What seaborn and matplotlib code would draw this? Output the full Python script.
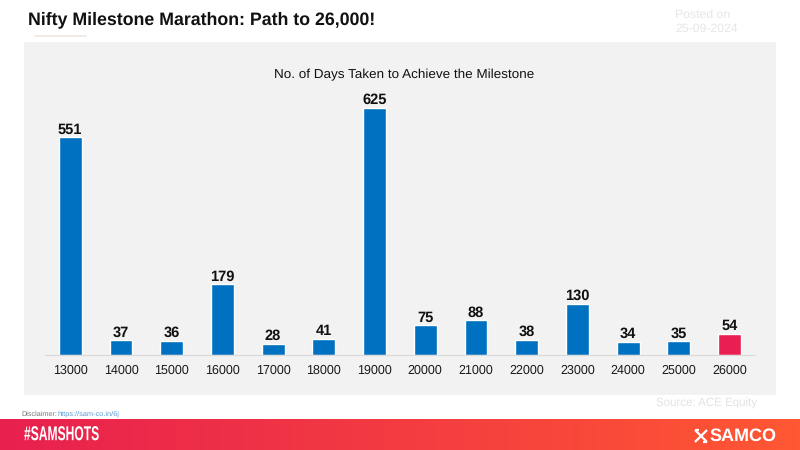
import numpy as np
import pandas as pd
import seaborn as sns
import matplotlib.pyplot as plt
from matplotlib.patches import Rectangle
from matplotlib.patheffects import AbstractPathEffect
from matplotlib.transforms import Affine2D
from matplotlib.colors import LinearSegmentedColormap

# data
milestones = ['13000', '14000', '15000', '16000', '17000', '18000', '19000',
              '20000', '21000', '22000', '23000', '24000', '25000', '26000']
days = [551, 37, 36, 179, 28, 41, 625, 75, 88, 38, 130, 34, 35, 54]
bar_colors = ['#0070c0'] * 13 + ['#e91e52']

df = pd.DataFrame({'milestone': milestones, 'days': days})

sns.set_theme(style='white')
plt.rcParams['font.family'] = ['Liberation Sans', 'DejaVu Sans']
plt.rcParams['text.hinting'] = 'no_hinting'
plt.rcParams['text.hinting_factor'] = 8

W, H = 800, 450
fig = plt.figure(figsize=(8, 4.5), dpi=100, facecolor='white')


def px(x, y):
    # pixel position from top left -> figure fraction
    return x / W, 1 - y / H


class Squeeze(AbstractPathEffect):
    # no condensed font installed, so squeeze the glyphs sideways
    def __init__(self, x0, factor):
        super().__init__()
        self.x0, self.factor = x0, factor

    def draw_path(self, renderer, gc, tpath, affine, rgbFace=None):
        squeeze = Affine2D().translate(-self.x0, 0).scale(self.factor, 1).translate(self.x0, 0)
        renderer.draw_path(gc, tpath, affine + squeeze, rgbFace)


# grey panel
fig.add_artist(Rectangle(px(24, 395), 752 / W, 353 / H, transform=fig.transFigure,
                         facecolor='#f2f2f2', edgecolor='none', zorder=0))

# chart
ax = fig.add_axes([44.9 / W, 1 - 355 / H, 710 / W, 277 / H])
ax.patch.set_alpha(0)
sns.barplot(data=df, x='milestone', y='days', hue='milestone', palette=bar_colors,
            legend=False, width=0.45, saturation=1, ax=ax)
ax.set_xlim(-0.5, 13.5)
ax.set_ylim(0, 701)
ax.set_xlabel('')
ax.set_ylabel('')
ax.set_yticks([])
ax.tick_params(axis='x', length=0, labelsize=9, pad=7, labelcolor='#1a1a1a')
for s in ['top', 'left', 'right']:
    ax.spines[s].set_visible(False)
ax.spines['bottom'].set_color('#d9d9d9')
ax.spines['bottom'].set_linewidth(0.8)
for c in ax.containers:
    ax.bar_label(c, fontsize=10.5, fontweight='bold', color='#111111', padding=0.5)

# texts
fig.text(*px(28, 20), 'Nifty Milestone Marathon: Path to 26,000!', fontsize=12.8,
         fontweight='bold', color='#111111', va='center')
fig.add_artist(plt.Line2D([35 / W, 86 / W], [1 - 35.5 / H] * 2, color='#eee8e0', lw=1.2))
fig.text(*px(404.5, 74.5), 'No. of Days Taken to Achieve the Milestone', fontsize=9.7,
         color='#111111', ha='center', va='center')
fig.text(*px(675, 15), 'Posted on', fontsize=8.8, color='#e6e6e6', va='center')
fig.text(*px(675, 29), '25-09-2024', fontsize=8.8, color='#e6e6e6', va='center')
fig.text(*px(656, 403), 'Source: ACE Equity', fontsize=8.3, color='#e3e3e3', va='center')
fig.text(*px(21, 414), 'Disclaimer:', fontsize=5.2, color='#777777', va='center')
fig.text(*px(57.5, 414), 'https://sam-co.in/6j', fontsize=5.3, color='#5b9bd5', va='center')

# footer banner
banner = fig.add_axes([0, 0, 1, 31 / H])
cmap = LinearSegmentedColormap.from_list('banner', ['#e8204f', '#ff5733'])
banner.imshow(np.linspace(0, 1, 256)[None, :], aspect='auto', cmap=cmap, extent=(0, W, 31, 0))
banner.axis('off')
tag = fig.text(*px(24, 435), '#SAMSHOTS', fontsize=14.5, fontweight='bold', color='white',
               va='center')
tag.set_path_effects([Squeeze(24, 0.6)])
fig.text(*px(709, 436), 'SAMCO', fontsize=13, fontweight='bold', color='white', va='center')

# logo mark
for xs, ys in [([695, 707], [430, 442]), ([695, 707], [442, 430]),
               ([695, 699], [430, 430]), ([703, 707], [442, 442])]:
    banner.plot(xs, [y - 419 for y in ys], color='white', lw=1.6, solid_capstyle='butt')
banner.set_xlim(0, W)
banner.set_ylim(31, 0)

fig.savefig('out.png', dpi=100)
